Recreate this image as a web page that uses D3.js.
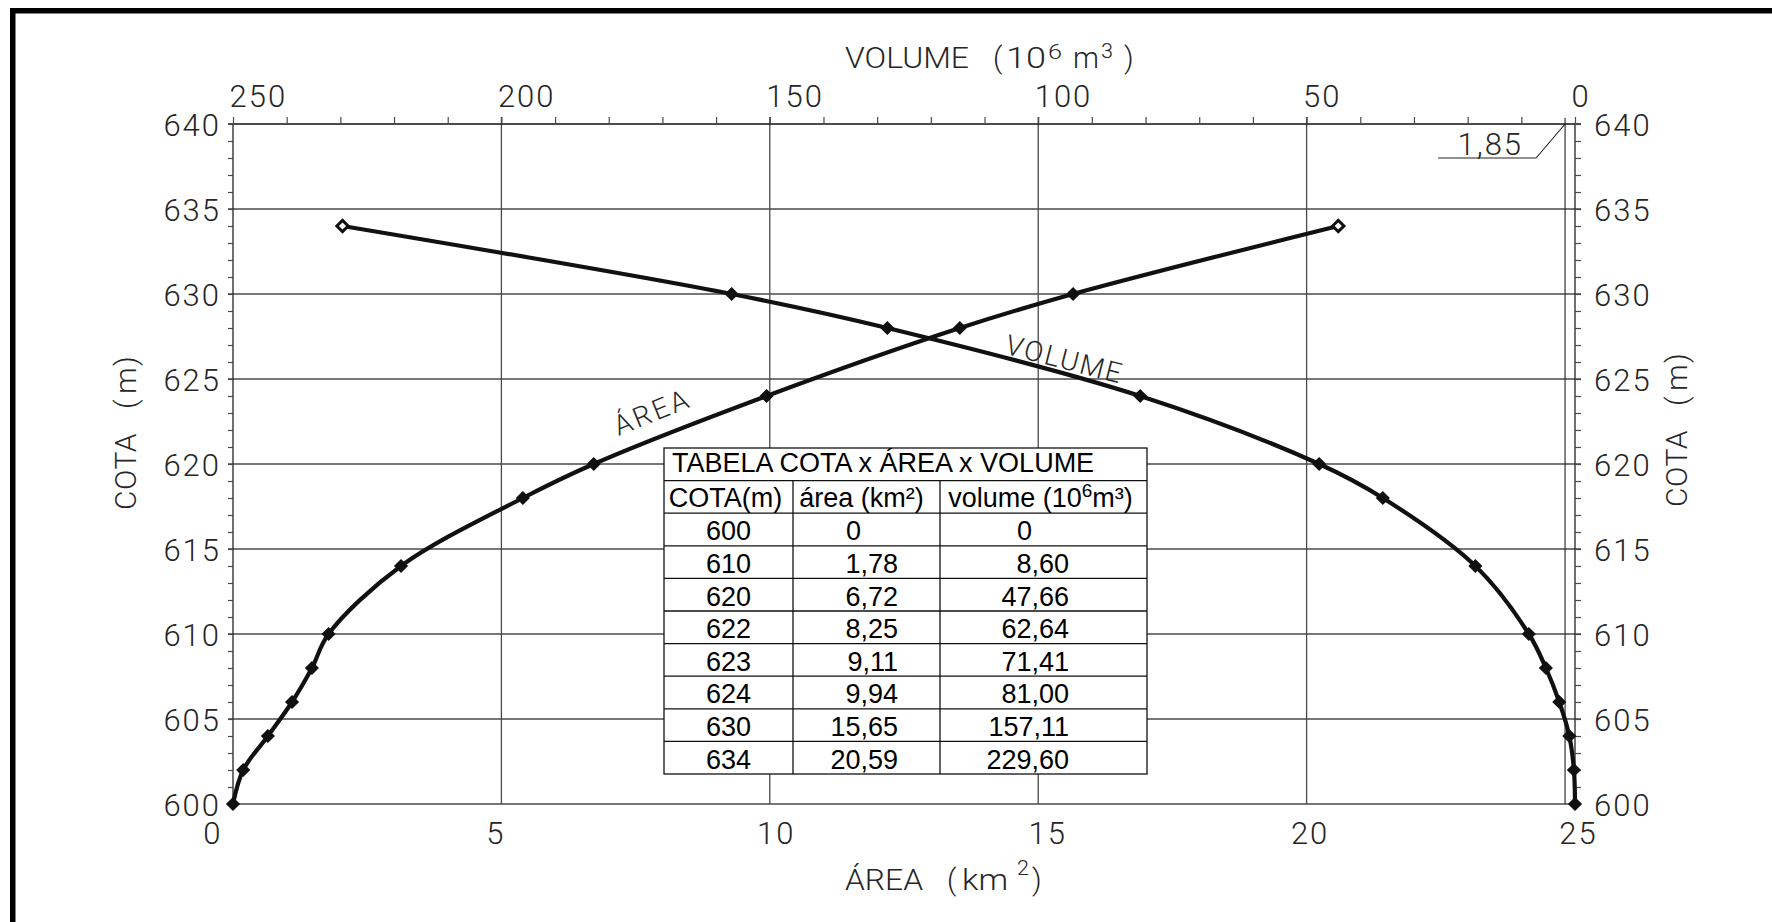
<!DOCTYPE html>
<html>
<head>
<meta charset="utf-8">
<script src="https://cdn.jsdelivr.net/npm/d3@7"></script>
<style>
  html, body { margin: 0; padding: 0; background: #fff; }
  svg { display: block; }
  .cad { font-family: Roboto, "Open Sans", "DejaVu Sans", sans-serif; font-weight: 300; fill: #262626; }
  .tbl { font-family: "Liberation Sans", Arial, sans-serif; fill: #000; }
</style>
</head>
<body>
<svg id="chart" width="1772" height="922"></svg>
<script>
// ---- Reservoir table: cota x área x volume ----
const tableCota   = [600, 610, 620, 622, 623, 624, 630, 634];
const tableArea   = [0, 1.78, 6.72, 8.25, 9.11, 9.94, 15.65, 20.59];
const tableVolume = [0, 8.60, 47.66, 62.64, 71.41, 81.00, 157.11, 229.60];

// ---- Curve points (cota in m, área in km², volume in 10^6 m³) ----
const areaCota     = [600, 602, 604, 606, 608, 610, 614, 618, 620, 624, 628, 630, 634];
const areaValues   = [0, 0.19, 0.65, 1.10, 1.47, 1.78, 3.13, 5.40, 6.72, 9.94, 13.54, 15.65, 20.59];
const volumeCota   = [600, 602, 604, 606, 608, 610, 614, 618, 620, 624, 628, 630, 634];
const volumeValues = [0, 0.20, 1.06, 2.93, 5.42, 8.60, 18.56, 35.80, 47.66, 81.00, 128.10, 157.11, 229.60];

// ---- Axis ticks ----
const cotaLabels   = [600, 605, 610, 615, 620, 625, 630, 635, 640];
const areaLabels   = [0, 5, 10, 15, 20, 25];
const volumeLabels = [250, 200, 150, 100, 50, 0];
const deadVolume   = 1.85;

const W = 1772, H = 922;
const svg = d3.select('#chart');
svg.append('rect').attr('width', W).attr('height', H).attr('fill', '#fff');

const plot = { left: 233, right: 1575, top: 124, bottom: 804 };
const x    = d3.scaleLinear().domain([0, 25]).range([plot.left, plot.right]);
const xVol = d3.scaleLinear().domain([250, 0]).range([plot.left, plot.right]);
const y    = d3.scaleLinear().domain([600, 640]).range([plot.bottom, plot.top]);

const GRID = '#4a4a4a';

// Drawing frame (open on the right and bottom)
svg.append('path')
  .attr('d', `M12.75,${H + 10} V10.8 H${W + 10}`)
  .attr('fill', 'none').attr('stroke', '#000').attr('stroke-width', 5.5);

// Horizontal grid lines
svg.append('g').selectAll('line')
  .data(cotaLabels.filter(c => c < 640))
  .join('line')
  .attr('x1', plot.left - 5).attr('x2', plot.right + 6)
  .attr('y1', d => y(d)).attr('y2', d => y(d))
  .attr('stroke', GRID).attr('stroke-width', 1.3);

// Vertical grid lines (shared by área and volume)
svg.append('g').selectAll('line')
  .data(areaLabels.filter(a => a > 0 && a < 25))
  .join('line')
  .attr('x1', d => x(d)).attr('x2', d => x(d))
  .attr('y1', plot.top - 7).attr('y2', plot.bottom)
  .attr('stroke', GRID).attr('stroke-width', 1.3);

// Top axis line (cota 640)
svg.append('line')
  .attr('x1', plot.left - 5).attr('x2', plot.right + 6)
  .attr('y1', y(640)).attr('y2', y(640))
  .attr('stroke', '#111').attr('stroke-width', 1.4);

// Left and right vertical axes
[plot.left, plot.right].forEach(px => {
  svg.append('line')
    .attr('x1', px).attr('x2', px).attr('y1', plot.top).attr('y2', plot.bottom)
    .attr('stroke', '#222').attr('stroke-width', 1.3);
});

function styleTicks(g, color) {
  g.select('.domain').remove();
  g.selectAll('.tick line').attr('stroke', color).attr('stroke-width', 1.2);
}

// Minor ticks every metre on both sides
svg.append('g').attr('transform', `translate(${plot.left},0)`)
  .call(d3.axisLeft(y).tickValues(d3.range(600, 641, 1)).tickSize(5).tickFormat(''))
  .call(g => styleTicks(g, GRID));
svg.append('g').attr('transform', `translate(${plot.right},0)`)
  .call(d3.axisRight(y).tickValues(d3.range(600, 641, 1)).tickSize(6).tickFormat(''))
  .call(g => styleTicks(g, GRID));

// Volume ticks every 10 on top
svg.append('g').attr('transform', `translate(0,${plot.top})`)
  .call(d3.axisTop(xVol).tickValues(d3.range(0, 251, 10)).tickSize(7).tickFormat(''))
  .call(g => styleTicks(g, GRID));

function styleLabels(g) {
  g.select('.domain').remove();
  g.selectAll('.tick line').remove();
  g.selectAll('text')
    .attr('class', 'cad')
    .attr('font-size', 31)
    .attr('letter-spacing', 2)
    .attr('fill', '#262626');
}

// Cota labels, left and right
svg.append('g').attr('transform', `translate(${plot.left},0)`)
  .call(d3.axisLeft(y).tickValues(cotaLabels).tickSize(0).tickPadding(12))
  .call(styleLabels)
  .call(g => g.selectAll('text').attr('dy', '0.36em'));
svg.append('g').attr('transform', `translate(${plot.right},0)`)
  .call(d3.axisRight(y).tickValues(cotaLabels).tickSize(0).tickPadding(19))
  .call(styleLabels)
  .call(g => g.selectAll('text').attr('dy', '0.36em'));

// Área labels (bottom); small hand-lettering nudges
const areaLabelNudge = { 0: -11, 5: -6, 10: 6, 15: 9, 20: 3, 25: 3 };
svg.append('g').attr('transform', `translate(0,${plot.bottom})`)
  .call(d3.axisBottom(x).tickValues(areaLabels).tickSize(0).tickPadding(18))
  .call(styleLabels)
  .call(g => g.selectAll('text')
    .attr('text-anchor', d => d === 0 ? 'end' : 'middle')
    .attr('dx', d => areaLabelNudge[d]));

// Volume labels (top)
svg.append('g').attr('transform', `translate(0,${plot.top})`)
  .call(d3.axisTop(xVol).tickValues(volumeLabels).tickSize(0).tickPadding(17))
  .call(styleLabels)
  .call(g => g.selectAll('text').attr('text-anchor', 'start').attr('dx', -4));

// Dead volume reference line and annotation
const dvx = xVol(deadVolume);
svg.append('line')
  .attr('x1', dvx).attr('x2', dvx).attr('y1', plot.top - 6).attr('y2', plot.bottom)
  .attr('stroke', '#222').attr('stroke-width', 1.1);
svg.append('path')
  .attr('d', `M${dvx - 127},${plot.top + 34} H${dvx - 29} L${dvx},${plot.top}`)
  .attr('fill', 'none').attr('stroke', '#222').attr('stroke-width', 1.1);
svg.append('text').attr('class', 'cad')
  .attr('x', dvx - 42).attr('y', plot.top + 31)
  .attr('text-anchor', 'end').attr('font-size', 31).attr('letter-spacing', 2)
  .text(d3.format('.2f')(deadVolume).replace('.', ','));

// Axis titles, pieces stretched to the lettering widths
function piece(str, px, py, size, len) {
  const t = svg.append('text').attr('class', 'cad').attr('font-size', size)
    .attr('x', px).attr('y', py).text(str);
  if (len) t.attr('textLength', len).attr('lengthAdjust', 'spacingAndGlyphs');
  return t;
}
piece('VOLUME', 845, 68, 29.5, 124);
piece('(', 993, 68, 29.5);
piece('10', 1006, 68, 29.5, 40);
piece('6', 1048, 59, 21, 14);
piece('m', 1073, 68, 29.5, 26);
piece('3', 1101, 58, 21, 12);
piece(')', 1124, 68, 29.5);

piece('ÁREA', 845, 890, 29.5, 78);
piece('(', 947, 890, 29.5);
piece('km', 962, 890, 29.5, 46);
piece('2', 1017, 875, 21, 12);
piece(')', 1032, 890, 29.5);

function cotaTitle(bx, by) {
  const t = svg.append('text').attr('class', 'cad').attr('font-size', 30)
    .attr('transform', `translate(${bx},${by}) rotate(-90)`);
  t.append('tspan').attr('x', 0).attr('letter-spacing', 0.5).text('COTA');
  t.append('tspan').attr('x', 101).text('(');
  t.append('tspan').attr('x', 116).text('m');
  t.append('tspan').attr('x', 144).text(')');
}
cotaTitle(136, 510);
cotaTitle(1687, 507);

// ---- Table ----
const tblX = [664, 793, 940, 1147];
const tblTop = 448, rowH = 32.6;
const nRows = 2 + tableCota.length;
const FS = 27;
const tbl = svg.append('g');
tbl.append('rect')
  .attr('x', tblX[0]).attr('y', tblTop)
  .attr('width', tblX[3] - tblX[0]).attr('height', nRows * rowH)
  .attr('fill', '#fff').attr('stroke', '#111').attr('stroke-width', 1.3);
tbl.selectAll('line.row')
  .data(d3.range(1, nRows))
  .join('line').attr('class', 'row')
  .attr('x1', tblX[0]).attr('x2', tblX[3])
  .attr('y1', i => tblTop + i * rowH).attr('y2', i => tblTop + i * rowH)
  .attr('stroke', '#111').attr('stroke-width', 1.3);
tbl.selectAll('line.col')
  .data([tblX[1], tblX[2]])
  .join('line').attr('class', 'col')
  .attr('x1', d => d).attr('x2', d => d)
  .attr('y1', tblTop + rowH).attr('y2', tblTop + nRows * rowH)
  .attr('stroke', '#111').attr('stroke-width', 1.3);

tbl.append('text').attr('class', 'tbl').attr('font-size', FS)
  .attr('x', tblX[0] + 8).attr('y', tblTop + 24)
  .text('TABELA COTA x ÁREA x VOLUME');

const hy = tblTop + rowH + 26.5;
tbl.append('text').attr('class', 'tbl').attr('font-size', FS)
  .attr('x', (tblX[0] + tblX[1]) / 2 - 3).attr('y', hy).attr('text-anchor', 'middle').text('COTA(m)');
tbl.append('text').attr('class', 'tbl').attr('font-size', FS)
  .attr('x', (tblX[1] + tblX[2]) / 2 - 5).attr('y', hy).attr('text-anchor', 'middle').text('área (km²)');
const vh = tbl.append('text').attr('class', 'tbl').attr('font-size', FS)
  .attr('x', (tblX[2] + tblX[3]) / 2 - 3).attr('y', hy).attr('text-anchor', 'middle');
vh.append('tspan').text('volume (10');
vh.append('tspan').attr('dy', -10).attr('font-size', 19).text('6');
vh.append('tspan').attr('dy', 10).text('m³)');

const fmt = v => v === 0 ? '0' : d3.format('.2f')(v).replace('.', ',');
const areaRight = 898, volRight = 1069, fracW = 37;
tableCota.forEach((c, i) => {
  const by = tblTop + (i + 3) * rowH - 5.5;
  tbl.append('text').attr('class', 'tbl').attr('font-size', FS)
    .attr('x', (tblX[0] + tblX[1]) / 2).attr('y', by).attr('text-anchor', 'middle').text(c);
  tbl.append('text').attr('class', 'tbl').attr('font-size', FS)
    .attr('x', tableArea[i] === 0 ? areaRight - fracW : areaRight).attr('y', by)
    .attr('text-anchor', 'end').text(fmt(tableArea[i]));
  tbl.append('text').attr('class', 'tbl').attr('font-size', FS)
    .attr('x', tableVolume[i] === 0 ? volRight - fracW : volRight).attr('y', by)
    .attr('text-anchor', 'end').text(fmt(tableVolume[i]));
});

// ---- Curves ----
const areaPts = areaCota.map((c, i) => ({ c, px: x(areaValues[i]) }));
const volPts  = volumeCota.map((c, i) => ({ c, px: xVol(volumeValues[i]) }));
const line = d3.line().x(d => d.px).y(d => y(d.c)).curve(d3.curveCatmullRom.alpha(0.5));

[areaPts, volPts].forEach(pts => {
  svg.append('path').attr('d', line(pts))
    .attr('fill', 'none').attr('stroke', '#111').attr('stroke-width', 4.2)
    .attr('stroke-linejoin', 'round');
  const topCota = d3.max(pts, d => d.c);
  svg.append('g').selectAll('path')
    .data(pts).join('path')
    .attr('d', d3.symbol(d3.symbolSquare, 64))
    .attr('transform', d => `translate(${d.px},${y(d.c)}) rotate(45)`)
    .attr('fill', d => d.c === topCota ? '#fff' : '#111')
    .attr('stroke', '#111')
    .attr('stroke-width', d => d.c === topCota ? 3 : 2);
});

// Curve names
svg.append('text').attr('class', 'cad').attr('font-size', 28).attr('letter-spacing', 3)
  .attr('transform', `translate(${x(7.18)},${y(621.65)}) rotate(-22)`)
  .text('ÁREA');
svg.append('text').attr('class', 'cad').attr('font-size', 28).attr('letter-spacing', 2)
  .attr('transform', `translate(${xVol(106.4)},${y(626.5)}) rotate(14.5)`)
  .text('VOLUME');
</script>
</body>
</html>
